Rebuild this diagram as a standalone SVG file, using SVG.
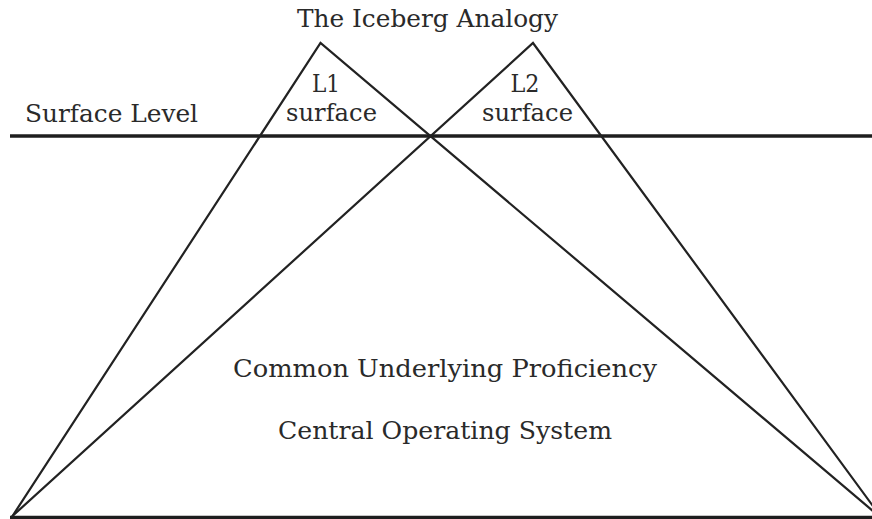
<svg xmlns="http://www.w3.org/2000/svg" width="872" height="519" viewBox="0 0 872 519">
  <style>
    .edge { stroke: #222; stroke-width: 2.2; fill: none; stroke-linecap: round; }
    .level { stroke: #1e1e1e; stroke-width: 3.5; fill: none; }
    .lbl { font-family: "DejaVu Serif", "Liberation Serif", serif; font-size: 24.5px; fill: #2a2a2a; }
    .mid { text-anchor: middle; }
  </style>
  <rect width="872" height="519" fill="#ffffff"/>
  <g id="title">
    <text class="lbl mid" x="427.5" y="27" textLength="261" lengthAdjust="spacingAndGlyphs">The Iceberg Analogy</text>
  </g>
  <g id="surface-level">
    <line class="level" x1="10" y1="136" x2="872" y2="136"/>
    <text class="lbl" x="25" y="121.5" textLength="173" lengthAdjust="spacingAndGlyphs">Surface Level</text>
  </g>
  <g id="base">
    <line class="level" x1="10" y1="517.5" x2="872" y2="517.5"/>
  </g>
  <g id="l1-iceberg">
    <polyline class="edge" points="12.5,516 320.5,43 880,517"/>
    <text class="lbl mid" x="326" y="91.5" textLength="28" lengthAdjust="spacingAndGlyphs">L1</text>
    <text class="lbl mid" x="331.5" y="120.5" textLength="91" lengthAdjust="spacingAndGlyphs">surface</text>
  </g>
  <g id="l2-iceberg">
    <polyline class="edge" points="12.5,516 533,43 881,517"/>
    <text class="lbl mid" x="525" y="91.5" textLength="29" lengthAdjust="spacingAndGlyphs">L2</text>
    <text class="lbl mid" x="527.5" y="120.5" textLength="91" lengthAdjust="spacingAndGlyphs">surface</text>
  </g>
  <g id="cup">
    <text class="lbl mid" x="445" y="377" textLength="424" lengthAdjust="spacingAndGlyphs">Common Underlying Proficiency</text>
    <text class="lbl mid" x="445" y="439" textLength="334" lengthAdjust="spacingAndGlyphs">Central Operating System</text>
  </g>
</svg>
